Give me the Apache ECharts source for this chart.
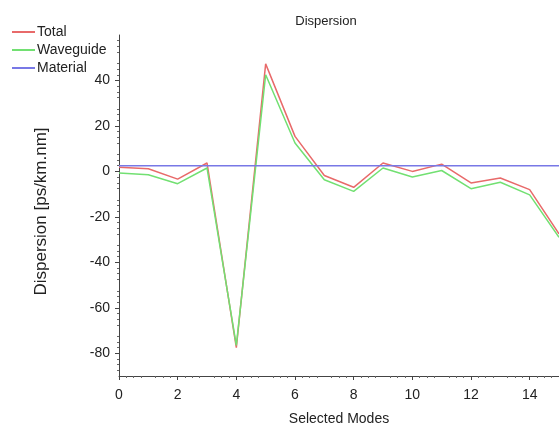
<!DOCTYPE html>
<html>
<head>
<meta charset="utf-8">
<script src="https://cdn.jsdelivr.net/npm/echarts@6/dist/echarts.min.js"></script>
<style>
  html, body { margin: 0; padding: 0; background: #fff; }
  #chart { width: 559px; height: 431px; }
</style>
</head>
<body>
<div id="chart"></div>
<script>
// mode index on x, dispersion values
const modes = [0, 1, 2, 3, 4, 5, 6, 7, 8, 9, 10, 11, 12, 13, 14, 15];
const total = [1.8, 1.2, -3.4, 3.7, -77.5, 47.3, 15.4, -1.8, -7, 3.7, 0, 3.2, -5.1, -2.9, -8, -27.5];
const waveguide = [-0.7, -1.5, -5.4, 1.5, -76.5, 42.5, 12.5, -3.7, -8.8, 1.5, -2.5, 0.4, -7.6, -4.8, -10.3, -29];
const material = [2.5, 2.5, 2.5, 2.5, 2.5, 2.5, 2.5, 2.5, 2.5, 2.5, 2.5, 2.5, 2.5, 2.5, 2.5, 2.5];
const xTicks = [0, 2, 4, 6, 8, 10, 12, 14];
const yTicks = [-80, -60, -40, -20, 0, 20, 40];

function pairs(vals) {
  return modes.map(function (m, i) { return [m, vals[i]]; });
}

const chart = echarts.init(document.getElementById('chart'), null, { renderer: 'canvas' });
const font = "'Liberation Sans', Arial, sans-serif";

chart.setOption({
  animation: false,
  color: ['#e86a6a', '#72e072', '#7878e6'],
  title: {
    text: 'Dispersion',
    left: 321,
    top: 10,
    textAlign: 'center',
    textStyle: { fontSize: 13, fontWeight: 'normal', color: '#222', fontFamily: font }
  },
  legend: {
    orient: 'vertical',
    left: 7,
    top: 20,
    itemGap: 4,
    itemWidth: 23,
    itemHeight: 2,
    icon: 'rect',
    textStyle: { fontSize: 14, color: '#222', fontFamily: font, padding: [0, 0, 0, -3] },
    data: ['Total', 'Waveguide', 'Material']
  },
  grid: { left: 119, right: 0, top: 35, bottom: 54, containLabel: false },
  xAxis: {
    type: 'value',
    min: 0,
    max: 15,
    interval: 1,
    name: 'Selected Modes',
    nameLocation: 'middle',
    nameGap: 36,
    nameTextStyle: { fontSize: 14, color: '#222', fontFamily: font },
    axisLine: { onZero: false, lineStyle: { color: '#444', width: 1 } },
    axisTick: { show: true, length: 4, customValues: xTicks, lineStyle: { color: '#444' } },
    minorTick: { show: true, splitNumber: 4, length: 2, lineStyle: { color: '#666' } },
    axisLabel: { customValues: xTicks, fontSize: 14, color: '#222', fontFamily: font, margin: 12 },
    splitLine: { show: false }
  },
  yAxis: {
    type: 'value',
    min: -90,
    max: 60,
    interval: 10,
    name: 'Dispersion [ps/km.nm]',
    nameLocation: 'middle',
    nameGap: 69,
    nameTextStyle: { fontSize: 17, color: '#222', fontFamily: font, padding: [0, 12, 0, 0] },
    axisLine: { show: true, lineStyle: { color: '#444', width: 1 } },
    axisTick: { show: true, length: 4, customValues: yTicks, lineStyle: { color: '#444' } },
    minorTick: { show: true, splitNumber: 4, length: 2, lineStyle: { color: '#666' } },
    axisLabel: { customValues: yTicks, fontSize: 14, color: '#222', fontFamily: font, margin: 9 },
    splitLine: { show: false }
  },
  series: [
    { name: 'Total', type: 'line', data: pairs(total), showSymbol: false, lineStyle: { width: 1.5 } },
    { name: 'Waveguide', type: 'line', data: pairs(waveguide), showSymbol: false, lineStyle: { width: 1.5 } },
    { name: 'Material', type: 'line', data: pairs(material), showSymbol: false, lineStyle: { width: 1.5 } }
  ]
});
</script>
</body>
</html>
